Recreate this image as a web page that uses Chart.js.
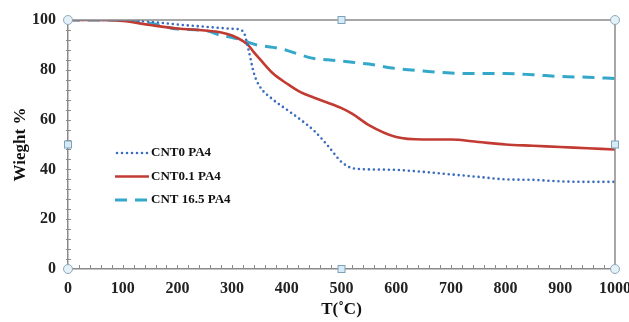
<!DOCTYPE html>
<html>
<head>
<meta charset="utf-8">
<script src="https://cdn.jsdelivr.net/npm/chart.js@4/dist/chart.umd.min.js"></script>
<style>
html,body{margin:0;padding:0;background:#fff;}
#wrap{position:relative;width:629px;height:322px;}
</style>
</head>
<body>
<div id="wrap"><canvas id="c"></canvas></div>
<script>
const temps = [0, 50, 100, 150, 200, 250, 280, 300, 320, 330, 340, 350, 375, 400, 425, 450, 475, 500, 520, 550, 600, 650, 700, 750, 800, 850, 900, 950, 1000];
const cnt0 = [100, 100, 100, 99.3, 98.2, 97.3, 96.8, 96.5, 95.5, 88, 78.5, 73.5, 68, 64, 60, 55.5, 49.5, 43, 40.5, 40, 39.8, 39, 38, 37, 36, 35.8, 35.2, 35, 35];
const cnt01 = [100, 100, 99.6, 98, 96.6, 95.8, 95, 93.8, 91.5, 89.8, 87, 84.5, 78.5, 74.5, 71, 68.8, 66.8, 64.6, 62.3, 57.8, 53, 52, 52, 51, 50, 49.5, 49, 48.5, 48];
const cnt165 = [100, 100, 100, 98.7, 96.4, 95.8, 93.8, 93, 91.8, 91, 90.3, 89.8, 89, 87.8, 86, 84.5, 84, 83.5, 83, 82.3, 80.5, 79.5, 78.7, 78.5, 78.5, 78, 77.3, 77, 76.5];
const seriesNames = ['CNT0 PA4', 'CNT0.1 PA4', 'CNT 16.5 PA4'];
const xTitle = 'T(˚C)';
const yTitle = 'Wieght %';

const colors = ['#3b6cc0', '#c23b33', '#34a8c9'];
const dashes = [[0, 5], [], [12, 8]];
const widths = [2.6, 2.6, 3];

function pts(vals){ return temps.map((t,i)=>({x:t,y:vals[i]})); }
const allVals = [cnt0, cnt01, cnt165];

const serif = '"Liberation Serif", "Times New Roman", serif';

const decor = {
  id:'decor',
  afterDraw(chart){
    const ctx = chart.ctx, a = chart.chartArea;
    const xs = chart.scales.x, ys = chart.scales.y;
    ctx.save();
    ctx.strokeStyle = '#8a8a8a'; ctx.lineWidth = 1.5;
    ctx.beginPath();
    ctx.moveTo(a.left, a.top); ctx.lineTo(a.right, a.top); ctx.lineTo(a.right, a.bottom);
    ctx.stroke();
    ctx.lineWidth = 1; ctx.strokeStyle = '#8a8a8a';
    ctx.beginPath();
    for(let v=0; v<=1000; v+=20){
      const px = Math.round(xs.getPixelForValue(v))+0.5;
      ctx.moveTo(px, a.bottom); ctx.lineTo(px, a.bottom-4);
    }
    for(let v=0; v<=100; v+=4){
      const py = Math.round(ys.getPixelForValue(v))+0.5;
      ctx.moveTo(a.left-2, py); ctx.lineTo(a.left+3, py);
    }
    ctx.stroke();
    const lx = a.left + 47, ly0 = a.top + 133, dy = 23.5;
    chart.data.datasets.forEach((ds,i)=>{
      const y = ly0 + i*dy;
      ctx.strokeStyle = ds.borderColor; ctx.lineWidth = ds.borderWidth;
      ctx.setLineDash(ds.borderDash || []);
      ctx.lineCap = ds.borderCapStyle;
      ctx.beginPath(); ctx.moveTo(lx+(i===0?2:0), y); ctx.lineTo(lx+34, y); ctx.stroke();
      ctx.setLineDash([]);
      ctx.fillStyle = '#111';
      ctx.font = 'bold 13px ' + serif;
      ctx.textBaseline = 'middle'; ctx.textAlign = 'left';
      ctx.fillText(ds.label, lx+36, y);
    });
    const midX = (a.left+a.right)/2, midY = (a.top+a.bottom)/2;
    const circ = [[a.left,a.top],[a.right,a.top],[a.left,a.bottom],[a.right,a.bottom]];
    const sq = [[midX,a.top],[a.left,midY],[a.right,midY],[midX,a.bottom]];
    ctx.lineWidth = 1;
    circ.forEach(([x,y])=>{
      ctx.beginPath(); ctx.arc(x,y,4.5,0,Math.PI*2);
      ctx.fillStyle = '#e3f1f8'; ctx.fill();
      ctx.strokeStyle = '#8fa8b8'; ctx.stroke();
    });
    sq.forEach(([x,y])=>{
      ctx.fillStyle = '#d6ebf6'; ctx.fillRect(x-3.5,y-3.5,7,7);
      ctx.strokeStyle = '#7ea2ba'; ctx.strokeRect(x-3.5,y-3.5,7,7);
    });
    ctx.restore();
  }
};

new Chart(document.getElementById('c'), {
  type:'line',
  data:{
    datasets: allVals.map((v,i)=>({
      label: seriesNames[i],
      data: pts(v),
      borderColor: colors[i],
      borderWidth: widths[i],
      borderDash: dashes[i],
      borderCapStyle: i===0 ? 'round' : 'butt',
      pointRadius: 0,
      fill: false,
      cubicInterpolationMode: 'monotone'
    }))
  },
  options:{
    responsive:true, maintainAspectRatio:false, animation:false,
    layout:{padding:{left:0,right:14,top:20,bottom:0}},
    plugins:{legend:{display:false}, tooltip:{enabled:false}},
    scales:{
      x:{
        type:'linear', min:0, max:1000,
        ticks:{stepSize:100, color:'#222', font:{family:serif, size:16, weight:'bold'}, padding:10, maxRotation:0, autoSkip:false, callback:(v)=>String(v)},
        grid:{display:true, drawOnChartArea:false, drawTicks:false},
        border:{display:true, color:'#8a8a8a', width:1.5},
        title:{display:true, text:xTitle, color:'#111', font:{family:serif, size:17, weight:'bold'}, padding:{top:0,bottom:2}},
        afterFit(s){ s.height = 53; s.paddingLeft = 0; s.paddingRight = 0; }
      },
      y:{
        type:'linear', min:0, max:100,
        ticks:{stepSize:20, color:'#222', font:{family:serif, size:16, weight:'bold'}, padding:12, callback:(v)=>String(v)},
        grid:{display:true, drawOnChartArea:false, drawTicks:false},
        border:{display:true, color:'#8a8a8a', width:1.5},
        title:{display:true, text:yTitle, color:'#111', font:{family:serif, size:17, weight:'bold'}, padding:{top:10,bottom:0}},
        afterFit(s){ s.width = 68; s.paddingTop = 0; s.paddingBottom = 0; }
      }
    }
  },
  plugins:[decor]
});
</script>
</body>
</html>
